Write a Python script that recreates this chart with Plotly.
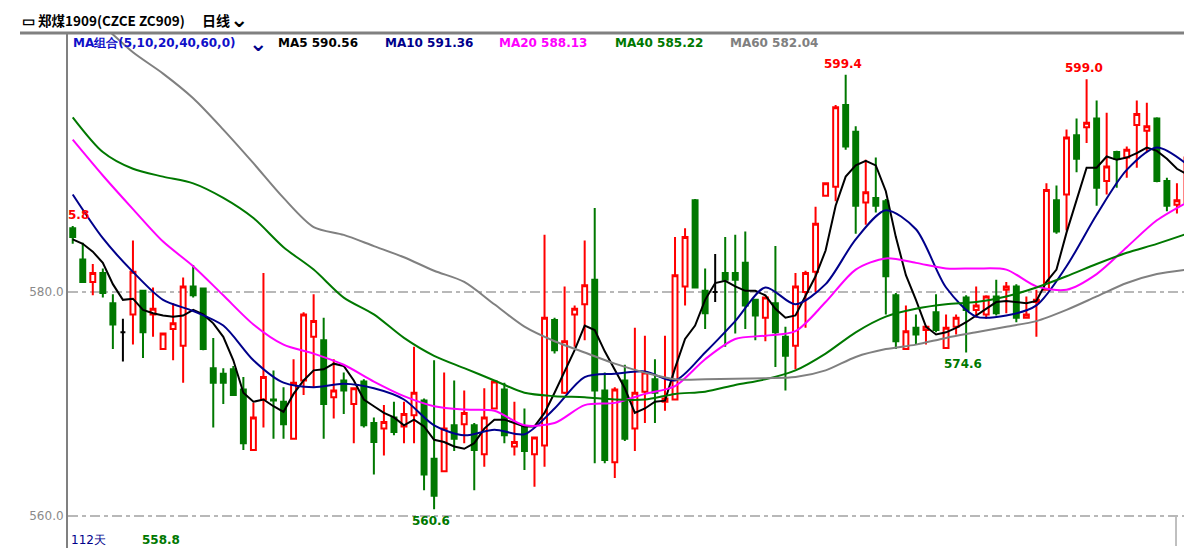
import plotly.graph_objects as go

# ---------------- data ----------------
OPEN = [585.7, 582.9, 580.9, 581.7, 579.0, 576.4, 578.0, 580.1, 578.0, 574.9,
        576.7, 575.2, 580.5, 580.3, 573.2, 572.7, 573.1, 571.3, 565.9, 570.4,
        570.4, 570.2, 566.9, 572.1, 576.0, 575.7, 570.6, 572.1, 570.0, 572.0,
        568.3, 567.8, 568.8, 568.0, 569.0, 570.3, 565.1, 564.0, 568.1, 568.2,
        568.1, 565.5, 569.6, 571.3, 566.2, 568.0, 565.5, 566.3, 577.5, 571.0,
        578.0, 578.9, 581.1, 571.2, 564.8, 572.1, 567.8, 571.1, 572.2, 570.2,
        570.4, 580.5, 588.2, 580.1, 580.0, 581.7, 581.7, 582.6, 579.3, 577.7,
        579.0, 576.0, 575.2, 580.0, 581.8, 588.6, 589.4, 596.7, 594.3, 588.0,
        588.4, 588.1, 579.7, 574.9, 576.8, 576.6, 578.2, 575.0, 576.9, 579.5,
        578.4, 578.0, 579.6, 580.2, 580.5, 577.7, 579.1, 580.2, 588.2, 588.7,
        594.0, 594.7, 595.5, 589.9, 592.5, 592.0, 594.9, 594.4, 595.5, 589.9,
        587.8, 588.0]
HIGH = [585.9, 584.4, 582.5, 582.1, 579.8, 577.6, 584.6, 580.1, 580.4, 576.3,
        579.0, 581.3, 582.4, 580.4, 575.9, 573.2, 573.4, 572.4, 570.1, 581.7,
        573.0, 571.5, 574.0, 578.2, 579.8, 577.7, 574.0, 572.8, 571.5, 572.2,
        568.8, 569.9, 570.2, 570.2, 575.1, 570.5, 573.9, 572.8, 572.1, 571.2,
        568.3, 571.4, 572.1, 571.9, 570.2, 569.6, 567.1, 585.1, 577.7, 580.5,
        578.8, 584.6, 587.5, 572.8, 571.5, 573.5, 576.8, 576.1, 574.0, 576.1,
        584.9, 585.7, 588.3, 582.1, 583.4, 584.9, 585.1, 585.4, 579.4, 579.6,
        584.1, 576.9, 581.7, 581.9, 587.6, 589.8, 596.7, 599.4, 594.8, 591.8,
        592.0, 588.3, 579.9, 578.8, 578.0, 577.0, 579.8, 578.0, 578.0, 579.7,
        580.5, 579.7, 581.1, 580.9, 580.7, 579.6, 580.2, 589.7, 589.5, 594.5,
        595.5, 599.0, 597.1, 596.0, 592.6, 593.0, 597.1, 596.9, 595.6, 590.2,
        589.7, 593.5]
LOW = [584.3, 580.9, 579.7, 579.5, 574.9, 573.8, 575.3, 574.1, 576.0, 574.9,
       573.9, 571.9, 579.5, 574.8, 567.9, 570.0, 570.8, 565.9, 565.9, 567.9,
       566.9, 566.9, 566.9, 570.8, 571.5, 566.9, 568.7, 569.1, 566.5, 567.9,
       563.7, 565.4, 567.2, 566.5, 566.5, 562.3, 560.6, 564.0, 565.8, 566.5,
       562.3, 564.4, 569.5, 566.5, 565.4, 564.1, 562.6, 564.4, 574.5, 570.9,
       575.1, 575.7, 564.7, 564.7, 563.4, 566.7, 565.8, 568.3, 568.3, 569.4,
       570.3, 578.8, 580.3, 576.7, 579.1, 575.1, 576.3, 576.7, 575.7, 575.6,
       573.3, 571.2, 573.1, 576.8, 580.0, 588.5, 588.1, 592.7, 585.2, 586.0,
       587.1, 578.0, 574.9, 574.9, 575.3, 575.3, 576.4, 574.9, 576.2, 574.6,
       577.7, 577.6, 577.9, 578.1, 577.3, 577.6, 576.0, 580.1, 585.2, 585.5,
       590.7, 593.3, 587.7, 588.7, 589.3, 590.2, 591.1, 592.5, 589.8, 587.2,
       587.0, 586.3]
CLOSE = [584.9, 580.9, 581.7, 579.9, 577.1, 576.4, 581.8, 576.4, 578.5, 576.3,
         577.2, 580.5, 579.7, 574.9, 571.9, 571.9, 570.8, 566.5, 568.8, 572.4,
         570.3, 568.2, 571.9, 578.0, 577.4, 570.0, 571.2, 571.2, 571.4, 568.1,
         566.6, 568.4, 567.5, 569.1, 571.0, 563.7, 561.8, 567.8, 566.9, 569.2,
         565.9, 568.8, 572.0, 567.2, 566.6, 565.8, 567.0, 577.7, 574.8, 575.6,
         578.5, 580.6, 571.2, 565.0, 571.3, 566.9, 571.0, 572.8, 571.0, 570.5,
         581.5, 584.9, 580.4, 578.1, 580.0, 581.1, 581.1, 578.8, 577.9, 579.5,
         576.4, 574.3, 580.5, 581.7, 586.1, 589.7, 596.5, 593.0, 587.7, 588.9,
         587.7, 581.4, 575.6, 576.5, 576.2, 576.9, 576.6, 576.8, 577.7, 578.4,
         578.8, 579.6, 578.1, 580.5, 577.7, 578.0, 579.3, 589.1, 585.4, 593.8,
         591.9, 595.1, 589.3, 591.2, 591.9, 592.7, 595.9, 594.8, 589.9, 587.7,
         588.2, 592.0]
DOJI = [5, 64]

MA5 = [584.7, 584.3, 583.6, 582.6, 580.7, 579.3, 579.4, 578.4, 578.1, 577.9,
       577.8, 577.9, 578.4, 578.0, 577.2, 576.0, 573.9, 571.0, 570.2, 570.4,
       569.8, 569.3, 570.9, 572.1, 573.0, 573.1, 573.6, 573.4, 572.1, 570.4,
       569.8, 569.2, 568.8, 568.1, 568.6, 568.0, 566.8, 566.6, 566.2, 566.0,
       566.5, 567.8, 568.6, 568.6, 568.3, 568.0, 568.0, 569.2, 571.0, 572.9,
       574.8, 577.0, 576.6, 574.7, 573.0, 571.4, 569.2, 569.6, 570.2, 570.3,
       573.2, 575.8, 577.0, 579.3, 580.8, 581.0, 580.5, 580.1, 580.1, 579.7,
       578.5, 577.7, 577.9, 579.6, 581.4, 583.7, 587.7, 590.3, 591.3, 591.7,
       591.3, 589.0, 584.9, 581.5, 579.3, 576.9, 576.2, 576.4, 576.8, 577.3,
       577.9, 578.5, 579.1, 579.2, 579.1, 579.0, 579.2, 580.9, 582.0, 585.3,
       588.2, 591.1, 591.1, 592.1, 591.8, 592.0, 592.4, 592.9, 592.6, 591.9,
       591.0, 590.5]
MA_IDX = list(range(0, 112, 3))
MA10 = [588.7, 584.8, 581.8, 579.3, 578.3, 577.0, 573.9, 571.9, 571.5, 571.8,
        571.4, 570.4, 568.1, 567.2, 567.7, 567.3, 569.6, 572.4, 572.7, 572.9,
        572.1, 574.6, 577.4, 580.4, 578.9, 580.7, 584.7, 587.3, 585.6, 580.4,
        577.8, 577.9, 578.8, 582.3, 586.9, 590.9, 592.9, 591.4]
MA20 = [593.6, 590.4, 587.4, 584.5, 582.3, 579.7, 577.1, 575.3, 574.5, 573.5,
        572.0, 570.7, 569.8, 569.5, 569.4, 568.1, 568.3, 569.9, 570.1, 570.9,
        571.6, 574.0, 575.8, 576.1, 576.5, 579.1, 582.0, 583.0, 582.6, 582.1,
        582.1, 582.0, 580.5, 580.2, 581.6, 584.0, 586.4, 588.0]
MA40 = [595.6, 592.5, 591.0, 590.3, 589.7, 588.4, 586.6, 584.0, 582.0, 579.5,
        578.0, 575.9, 574.3, 573.2, 572.1, 571.0, 570.7, 570.6, 570.4, 570.4,
        570.9, 571.1, 571.7, 572.2, 573.0, 574.5, 576.4, 577.8, 578.5, 578.9,
        579.1, 579.6, 580.4, 581.4, 582.5, 583.5, 584.3, 585.2]
MA60 = [606.0, 603.8, 601.4, 599.5, 597.3, 594.5, 591.5, 588.4, 585.8, 585.1,
        584.1, 583.1, 581.9, 580.9, 578.9, 576.9, 575.6, 574.6, 573.6, 572.8,
        572.2, 572.2, 572.25, 572.3, 572.4, 573.0, 574.2, 574.9, 575.3, 575.9,
        576.4, 576.9, 577.4, 578.4, 579.6, 580.8, 581.6, 582.0]

MA_NAMES = ["MA5", "MA10", "MA20", "MA40", "MA60"]
MA_LAST = ["590.56", "591.36", "588.13", "585.22", "582.04"]
MA_COLORS = ["#000000", "#00008b", "#ff00ff", "#007800", "#808080"]

Y_TICKS = [560, 580]
Y_TICKTEXT = ["560.0", "580.0"]
TITLE = "郑煤1909(CZCE ZC909)"
PERIOD = "日线"
MA_SET = "MA组合(5,10,20,40,60,0)"
DAYS = "112天"
BOTTOM_VAL = "558.8"
MARKS = [(77, 599.4, "599.4", "high"), (101, 599.0, "599.0", "high"),
         (89, 574.6, "574.6", "low"), (36, 560.6, "560.6", "low")]

# ---------------- figure ----------------
OFF = 8                      # page body margin of the html page
W, H = 1192 - OFF, 557 - OFF
L, R, T, B = 68 - OFF, 0, 33 - OFF, 9
PW, PH = W - L - R, H - T - B


def px(x):                   # reference screen x -> paper x
    return (x - OFF - L) / PW


def py(y):                   # reference screen y -> paper y
    return (H - B - (y - OFF)) / PH


idx = list(range(len(OPEN)))
main = [i for i in idx if i not in DOJI]

fig = go.Figure()
fig.add_trace(go.Candlestick(
    x=main,
    open=[OPEN[i] for i in main], high=[HIGH[i] for i in main],
    low=[LOW[i] for i in main], close=[CLOSE[i] for i in main],
    increasing=dict(line=dict(color="#ff0000", width=2), fillcolor="#ffffff"),
    decreasing=dict(line=dict(color="#007800", width=2), fillcolor="#007800"),
    showlegend=False, hoverinfo="skip"))
fig.add_trace(go.Candlestick(
    x=DOJI,
    open=[OPEN[i] for i in DOJI], high=[HIGH[i] for i in DOJI],
    low=[LOW[i] for i in DOJI], close=[CLOSE[i] for i in DOJI],
    increasing=dict(line=dict(color="#000000", width=2), fillcolor="#000000"),
    decreasing=dict(line=dict(color="#000000", width=2), fillcolor="#000000"),
    showlegend=False, hoverinfo="skip"))

series = [(idx, MA5, "linear"), (MA_IDX, MA10, "spline"), (MA_IDX, MA20, "spline"),
          (MA_IDX, MA40, "spline"), (MA_IDX, MA60, "spline")]
for (xs, ys, shape), c in zip(series, MA_COLORS):
    fig.add_trace(go.Scatter(x=xs, y=ys, mode="lines",
                             line=dict(color=c, width=2, shape=shape, smoothing=0.8),
                             showlegend=False, hoverinfo="skip"))

ann = []
FONT = "DejaVu Sans"
CJK = "Noto Sans CJK SC"
# title row
ann.append(dict(x=px(20), y=py(20), xref="paper", yref="paper", xanchor="left", yanchor="middle",
                text="<b>▭ " + TITLE + "</b>", showarrow=False,
                font=dict(family=CJK, size=13.5, color="#000000")))
ann.append(dict(x=px(200), y=py(20), xref="paper", yref="paper", xanchor="left", yanchor="middle",
                text="<b>" + PERIOD + "</b>", showarrow=False,
                font=dict(family=CJK, size=14, color="#000000")))
ann.append(dict(x=px(239), y=py(20), xref="paper", yref="paper", xanchor="center", yanchor="middle",
                text="<b>⌄</b>", showarrow=False, font=dict(family=FONT, size=22, color="#000000")))
# MA legend row
ann.append(dict(x=px(71), y=py(43), xref="paper", yref="paper", xanchor="left", yanchor="middle",
                text="<b>" + MA_SET + "</b>", showarrow=False,
                font=dict(family=FONT, size=12, color="#1010c8")))
ann.append(dict(x=px(258), y=py(44), xref="paper", yref="paper", xanchor="center", yanchor="middle",
                text="<b>⌄</b>", showarrow=False, font=dict(family=FONT, size=22, color="#00008b")))
LEG_X = [276, 383, 497, 613, 728]
for n, v, c, xx in zip(MA_NAMES, MA_LAST, MA_COLORS, LEG_X):
    ann.append(dict(x=px(xx), y=py(43), xref="paper", yref="paper", xanchor="left", yanchor="middle",
                    text="<b>" + n + " " + v + "</b>", showarrow=False,
                    font=dict(family=FONT, size=12, color=c)))
# bottom row
ann.append(dict(x=px(69), y=py(540), xref="paper", yref="paper", xanchor="left", yanchor="middle",
                text=DAYS, showarrow=False, font=dict(family=FONT, size=12, color="#00008b")))
ann.append(dict(x=px(140), y=py(540), xref="paper", yref="paper", xanchor="left", yanchor="middle",
                text="<b>" + BOTTOM_VAL + "</b>", showarrow=False,
                font=dict(family=FONT, size=12, color="#007800")))
# cut-off high label at left
ann.append(dict(x=px(66), y=py(215), xref="paper", yref="paper", xanchor="left", yanchor="middle",
                text="<b>5.8</b>", showarrow=False, font=dict(family=FONT, size=12, color="#ff0000")))
# max / min labels
for i, v, t, kind in MARKS:
    ann.append(dict(x=i, y=v, xref="x", yref="y", text="<b>" + t + "</b>", showarrow=False,
                    xanchor="center", yanchor="bottom" if kind == "high" else "top",
                    yshift=2 if kind == "high" else -3, xshift=-3,
                    font=dict(family=FONT, size=12,
                              color="#ff0000" if kind == "high" else "#007800")))

shapes = [
    dict(type="line", xref="paper", yref="paper", x0=px(20), x1=px(1192), y0=py(33), y1=py(33),
         line=dict(color="#808080", width=3)),
    dict(type="line", xref="paper", yref="paper", x0=px(1176), x1=px(1176), y0=py(517), y1=py(546),
         line=dict(color="#808080", width=1)),
]

fig.update_layout(
    width=W, height=H, margin=dict(l=L, r=R, t=T, b=B),
    paper_bgcolor="#ffffff", plot_bgcolor="#ffffff",
    boxgap=0.3, showlegend=False,
    annotations=ann, shapes=shapes,
    xaxis=dict(range=[-0.47, 111.5], showgrid=False, zeroline=False, showticklabels=False,
               ticks="", showline=False, rangeslider=dict(visible=False), fixedrange=True),
    yaxis=dict(range=[557.14, 603.125], tickvals=Y_TICKS, ticktext=Y_TICKTEXT,
               showgrid=True, gridcolor="#b8b8b8", gridwidth=2, griddash="10px,4px,4px,4px",
               zeroline=False, showline=True, linecolor="#808080", linewidth=2, ticks="",
               tickfont=dict(family=FONT, size=12, color="#8a8a8a")),
)

fig.write_html("out.html")
